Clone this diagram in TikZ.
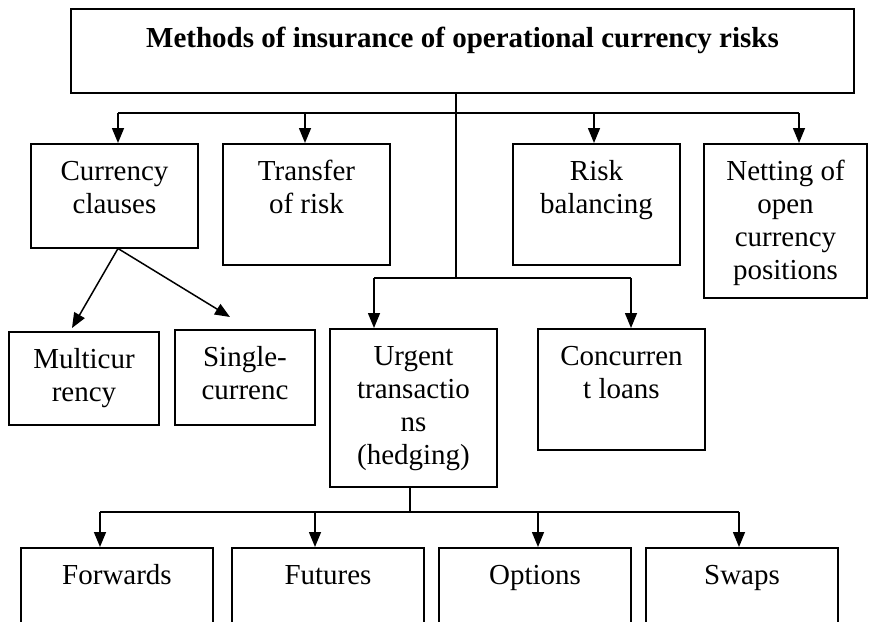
\documentclass[tikz,border=0pt]{standalone}
\usepackage{fontspec}
\setmainfont{Liberation Serif}
\usetikzlibrary{arrows.meta}

\newcommand{\boxtext}[3]{\parbox[c][#2][t]{#1}{\centering\rule{0pt}{37pt}#3}}

\begin{document}
\begin{tikzpicture}[x=1pt, y=-1pt, line width=1.5pt,
    font=\fontsize{29}{33}\selectfont,
    box/.style={draw, rectangle, inner sep=0pt, anchor=north},
    arr/.style={-{Triangle[length=15pt,width=12pt]}}]
    \clip (0,0) rectangle (869,621);

    \node[box] (methods) at (462.5,8) {\parbox[c][84pt][t]{783pt}{\centering\rule{0pt}{39pt}\textbf{Methods of insurance of operational currency risks}}};

    \node[box] (clauses) at (114.5,143) {\boxtext{167pt}{104pt}{Currency\\clauses}};
    \node[box] (transfer) at (306.5,143) {\boxtext{167pt}{121pt}{Transfer\\of risk}};
    \node[box] (balancing) at (596.5,143) {\boxtext{167pt}{121pt}{Risk\\balancing}};
    \node[box] (netting) at (785.5,143) {\boxtext{163pt}{154pt}{Netting of\\open\\currency\\positions}};

    \node[box] (multi) at (84,331) {\boxtext{150pt}{93pt}{Multicur\\rency}};
    \node[box] (single) at (245,329) {\boxtext{140pt}{95pt}{Single-\\currenc}};
    \node[box] (urgent) at (413.5,328) {\boxtext{167pt}{158pt}{Urgent\\transactio\\ns\\(hedging)}};
    \node[box] (concurrent) at (621.5,328) {\boxtext{167pt}{121pt}{Concurren\\t loans}};

    \node[box] (forwards) at (117,547) {\boxtext{192pt}{100pt}{Forwards}};
    \node[box] (futures) at (328,547) {\boxtext{192pt}{100pt}{Futures}};
    \node[box] (options) at (535,547) {\boxtext{192pt}{100pt}{Options}};
    \node[box] (swaps) at (742,547) {\boxtext{192pt}{100pt}{Swaps}};

    % first level
    \coordinate (split1) at (456,113);
    \coordinate (split2) at (456,278);
    \draw (methods.south -| split1) -- (split2);
    \draw (118,113) -- (799,113);
    \foreach \x/\n in {118/clauses, 305/transfer, 594/balancing, 799/netting}
        \draw[arr] (\x,113) -- (\x,113 |- \n.north);

    % currency clauses
    \coordinate (fork) at (clauses.south -| 118,0);
    \coordinate (tipmulti) at (72,328);
    \coordinate (tipsingle) at (230,317);
    \draw[arr] (fork) -- (tipmulti);
    \draw[arr] (fork) -- (tipsingle);

    % second level
    \draw (374,278) -- (631,278);
    \foreach \x/\n in {374/urgent, 631/concurrent}
        \draw[arr] (\x,278) -- (\x,278 |- \n.north);

    % hedging
    \coordinate (split3) at (410,512);
    \draw (split3 |- urgent.south) -- (split3);
    \draw (100,512) -- (739,512);
    \foreach \x/\n in {100/forwards, 315/futures, 538/options, 739/swaps}
        \draw[arr] (\x,512) -- (\x,512 |- \n.north);
\end{tikzpicture}
\end{document}
